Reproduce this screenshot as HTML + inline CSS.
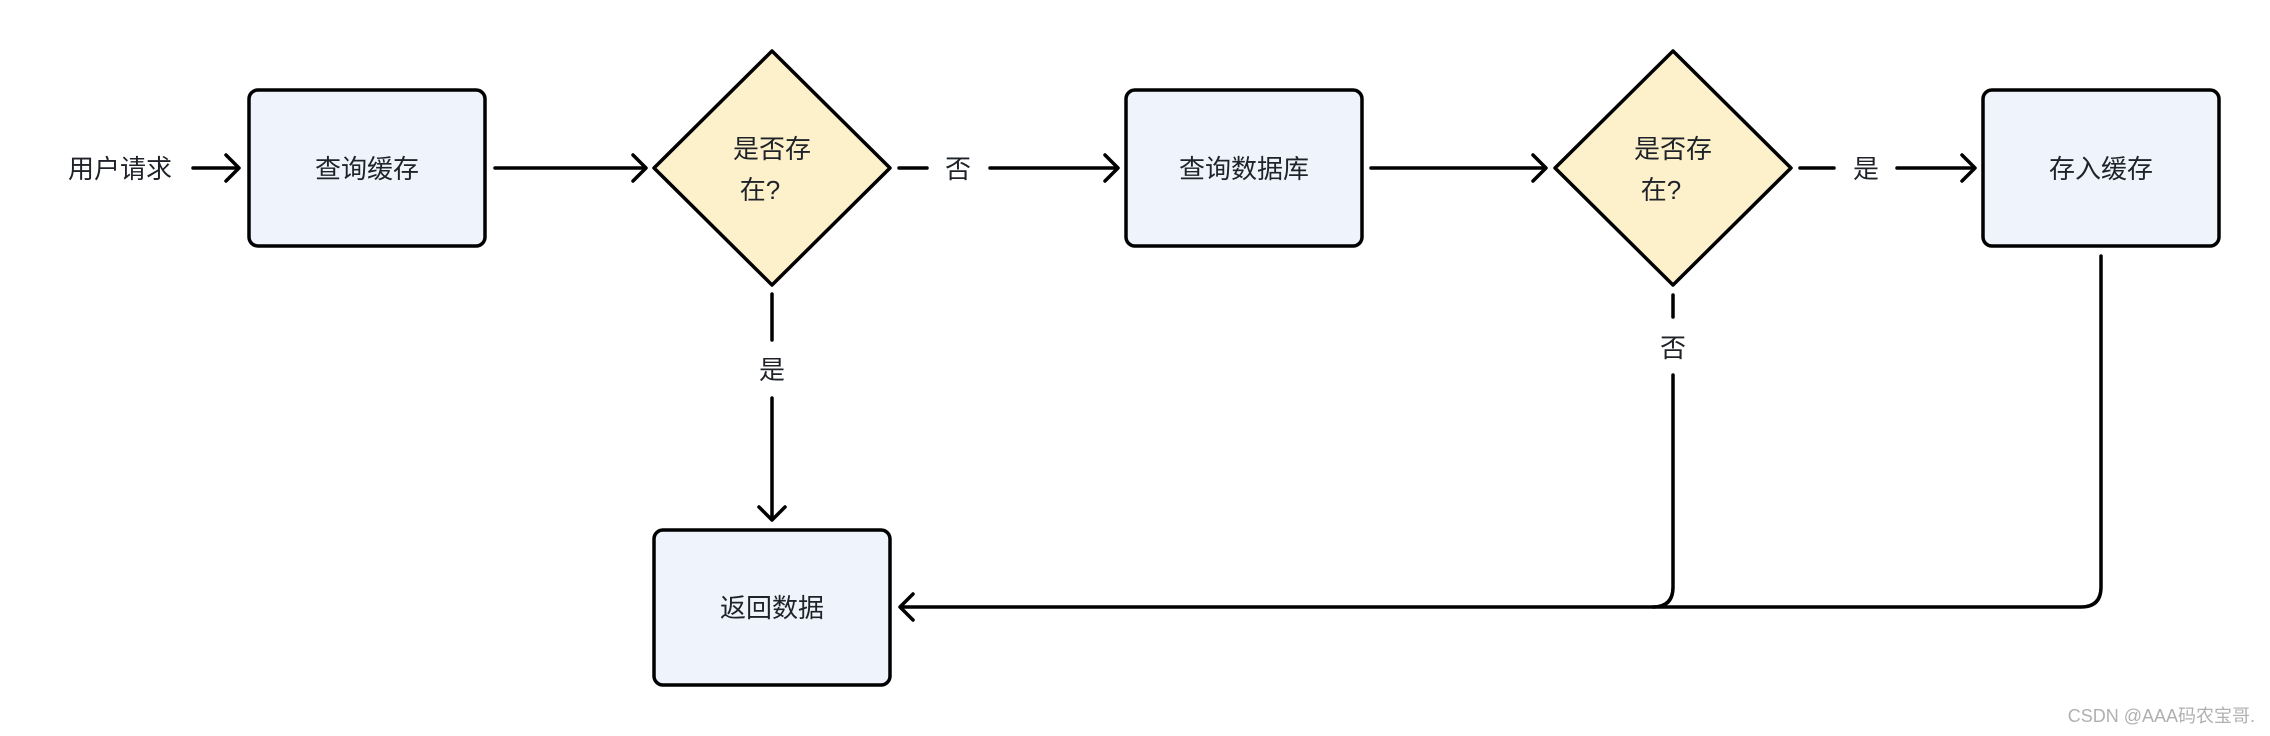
<!DOCTYPE html>
<html><head><meta charset="utf-8"><style>
html,body{margin:0;padding:0;background:#fff;}
svg{display:block;}
text{font-family:"Liberation Sans","Noto Sans CJK SC",sans-serif;fill:#1f2329;}
</style></head><body>
<svg width="2270" height="736" viewBox="0 0 2270 736" xmlns="http://www.w3.org/2000/svg">
<g stroke="#000" stroke-width="3.5" fill="none" stroke-linecap="round" stroke-linejoin="round">
  <!-- request arrow -->
  <line x1="193" y1="168" x2="237" y2="168"/><polyline points="226,155 239,168 226,181"/>
  <!-- box1 -> d1 -->
  <line x1="495" y1="168" x2="644" y2="168"/><polyline points="633,155 646,168 633,181"/>
  <!-- d1 否 -> box2 -->
  <line x1="899" y1="168" x2="927" y2="168"/>
  <line x1="990" y1="168" x2="1116" y2="168"/><polyline points="1105,155 1118,168 1105,181"/>
  <!-- box2 -> d2 -->
  <line x1="1371" y1="168" x2="1544" y2="168"/><polyline points="1533,155 1546,168 1533,181"/>
  <!-- d2 是 -> box3 -->
  <line x1="1800" y1="168" x2="1834" y2="168"/>
  <line x1="1897" y1="168" x2="1973" y2="168"/><polyline points="1962,155 1975,168 1962,181"/>
  <!-- d1 down 是 -->
  <line x1="772" y1="294" x2="772" y2="340"/>
  <line x1="772" y1="398" x2="772" y2="518"/><polyline points="759,507 772,520 785,507"/>
  <!-- d2 down 否 -->
  <line x1="1673" y1="295" x2="1673" y2="317"/>
  <path d="M1673 375 V587 Q1673 607 1653 607"/>
  <!-- box3 down -->
  <path d="M2101 256 V587 Q2101 607 2081 607 H902"/>
  <polyline points="913,594 900,607 913,620"/>
</g>
<g stroke="#000" stroke-width="3.5" fill="#eff4fc">
  <rect x="249" y="90" width="236" height="156" rx="9"/>
  <rect x="1126" y="90" width="236" height="156" rx="9"/>
  <rect x="1983" y="90" width="236" height="156" rx="9"/>
  <rect x="654" y="530" width="236" height="155" rx="9"/>
</g>
<g stroke="#000" stroke-width="3.5" fill="#fdf1cc" stroke-linejoin="round">
  <polygon points="772,51 890,168 772,285 654,168"/>
  <polygon points="1673,51 1791,168 1673,285 1555,168"/>
</g>
<g font-size="26" text-anchor="middle">
  <text x="120" y="178">用户请求</text>
  <text x="367" y="178">查询缓存</text>
  <text x="1244" y="178">查询数据库</text>
  <text x="2101" y="178">存入缓存</text>
  <text x="772" y="617">返回数据</text>
  <text x="772" y="158">是否存</text>
  <text x="760" y="199">在?</text>
  <text x="1673" y="158">是否存</text>
  <text x="1661" y="199">在?</text>
  <text x="958" y="178">否</text>
  <text x="1866" y="178">是</text>
  <text x="772" y="379">是</text>
  <text x="1673" y="357">否</text>
</g>
<text x="2255" y="722" font-size="18" text-anchor="end" style="fill:#b0b0b0">CSDN @AAA码农宝哥.</text>
</svg>
</body></html>
